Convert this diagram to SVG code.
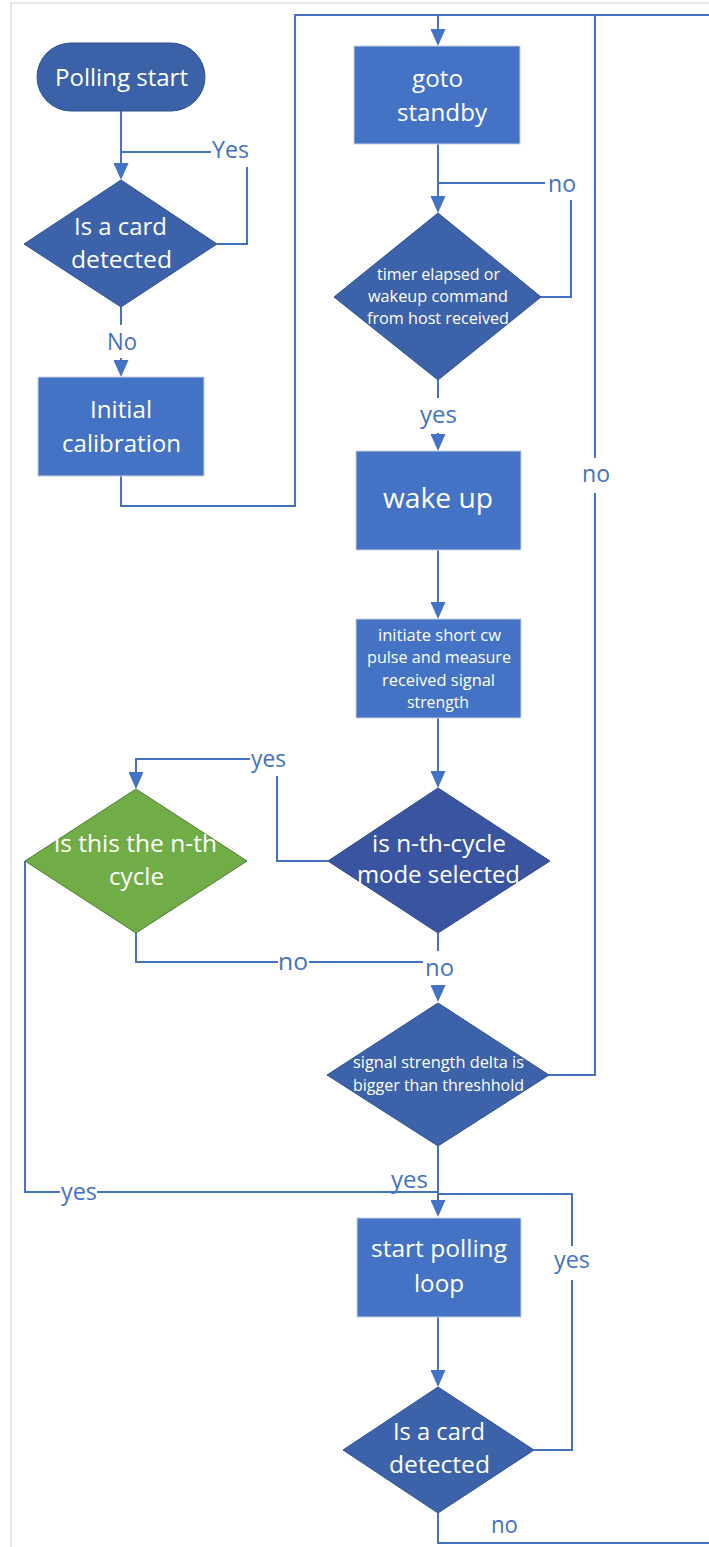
<svg xmlns="http://www.w3.org/2000/svg" width="709" height="1547" viewBox="0 0 709 1547">
<style>
  .bg{fill:#ffffff}
  .page{fill:none;stroke:#dedede;stroke-width:1.5}
  .con{fill:none;stroke:#4472c4;stroke-width:2}
  .arr{fill:none;stroke:#4472c4;stroke-width:2;marker-end:url(#ah)}
  .proc{fill:#4472c4;stroke:#c9d1e0;stroke-width:1}
  .term{fill:#3b61a9;stroke:#2f528f;stroke-width:1}
  .dec{fill:#3c62a9;stroke:#2f528f;stroke-width:1}
  .dec2{fill:#3a55a0;stroke:#2f4a8a;stroke-width:1}
  .green{fill:#70ad47;stroke:#4e7d31;stroke-width:1}
  .t{font-family:"Open Sans","Liberation Sans",sans-serif;fill:#ffffff;text-anchor:middle;font-size:24px}
  .ts{font-family:"Open Sans","Liberation Sans",sans-serif;fill:#ffffff;text-anchor:middle;font-size:16px}
  .tb{font-family:"Open Sans","Liberation Sans",sans-serif;fill:#ffffff;text-anchor:middle;font-size:28px}
  .lbl{font-family:"Open Sans","Liberation Sans",sans-serif;fill:#4472c4;text-anchor:middle;font-size:23px}
</style>
<defs>
  <marker id="ah" viewBox="0 0 17 15" markerWidth="17" markerHeight="15" refX="15" refY="7.5" orient="auto" markerUnits="userSpaceOnUse">
    <path d="M0,0 L17,7.5 L0,15 Z" fill="#4472c4"/>
  </marker>
</defs>
<rect class="bg" x="0" y="0" width="709" height="1547"/>
<path class="page" d="M11,1547 V3 H709"/>

<g id="connectors">
  <path class="arr" d="M121,111 V178"/>
  <path class="con" d="M217,244 H247 V167"/>
  <path class="con" d="M211,152 H121"/>
  <path class="con" d="M121,307 V325"/>
  <path class="arr" d="M121,358 V375"/>
  <path class="arr" d="M121,476 V506 H295 V15 H438 V44"/>
  <path class="con" d="M438,15 H709"/>
  <path class="arr" d="M438,144 V211"/>
  <path class="con" d="M541,297 H571 V200"/>
  <path class="con" d="M545,183 H438"/>
  <path class="con" d="M438,380 V398"/>
  <path class="arr" d="M438,433 V449"/>
  <path class="arr" d="M438,550 V617"/>
  <path class="arr" d="M438,718 V786"/>
  <path class="con" d="M328,861 H277 V776"/>
  <path class="arr" d="M250,759 H136 V787"/>
  <path class="con" d="M438,933 V951"/>
  <path class="arr" d="M438,986 V1000"/>
  <path class="con" d="M136,933 V962 H278"/>
  <path class="con" d="M309,962 H423"/>
  <path class="con" d="M549,1075 H595 V493"/>
  <path class="con" d="M595,458 V15"/>
  <path class="arr" d="M438,1146 V1215"/>
  <path class="con" d="M25,861 V1192 H60"/>
  <path class="con" d="M97,1192 H438"/>
  <path class="con" d="M534,1450 H572 V1280"/>
  <path class="con" d="M572,1246 V1194 H438"/>
  <path class="arr" d="M438,1317 V1385"/>
  <path class="con" d="M438,1513 V1543 H709"/>
  <g id="labels">
    <text class="lbl" x="230.5" y="158" textLength="37" lengthAdjust="spacingAndGlyphs">Yes</text>
    <text class="lbl" x="122" y="350" textLength="30" lengthAdjust="spacingAndGlyphs">No</text>
    <text class="lbl" x="562" y="192" textLength="28" lengthAdjust="spacingAndGlyphs">no</text>
    <text class="lbl" x="438.5" y="423" textLength="37" lengthAdjust="spacingAndGlyphs">yes</text>
    <text class="lbl" x="596" y="482" textLength="28" lengthAdjust="spacingAndGlyphs">no</text>
    <text class="lbl" x="268.5" y="767" textLength="35" lengthAdjust="spacingAndGlyphs">yes</text>
    <text class="lbl" x="293" y="970" textLength="30" lengthAdjust="spacingAndGlyphs">no</text>
    <text class="lbl" x="439.5" y="976" textLength="29" lengthAdjust="spacingAndGlyphs">no</text>
    <text class="lbl" x="409.5" y="1188" textLength="37" lengthAdjust="spacingAndGlyphs">yes</text>
    <text class="lbl" x="79" y="1200" textLength="36" lengthAdjust="spacingAndGlyphs">yes</text>
    <text class="lbl" x="572" y="1268" textLength="36" lengthAdjust="spacingAndGlyphs">yes</text>
    <text class="lbl" x="504.5" y="1533" textLength="27" lengthAdjust="spacingAndGlyphs">no</text>
  </g>
</g>

<g id="polling-start">
  <rect class="term" x="37" y="43" width="168" height="68" rx="34"/>
  <text class="t" x="121.5" y="86" textLength="133" lengthAdjust="spacingAndGlyphs">Polling start</text>
</g>
<g id="card-detected-1">
  <polygon class="dec" points="121,180 217,244 121,307 24,244"/>
  <text class="t" x="120.5" y="235" textLength="93" lengthAdjust="spacingAndGlyphs">Is a card</text>
  <text class="t" x="121.5" y="268" textLength="101" lengthAdjust="spacingAndGlyphs">detected</text>
</g>
<g id="initial-calibration">
  <rect class="proc" x="38" y="377" width="166" height="99"/>
  <text class="t" x="121" y="418" textLength="62" lengthAdjust="spacingAndGlyphs">Initial</text>
  <text class="t" x="121.5" y="452" textLength="119" lengthAdjust="spacingAndGlyphs">calibration</text>
</g>
<g id="goto-standby">
  <rect class="proc" x="354" y="46" width="166" height="98"/>
  <text class="t" x="437.5" y="87" textLength="51" lengthAdjust="spacingAndGlyphs">goto</text>
  <text class="t" x="442" y="121" textLength="90" lengthAdjust="spacingAndGlyphs">standby</text>
</g>
<g id="timer-elapsed">
  <polygon class="dec" points="438,213 541,297 438,380 334,297"/>
  <text class="ts" x="438.5" y="280" textLength="123" lengthAdjust="spacingAndGlyphs">timer elapsed or</text>
  <text class="ts" x="438" y="302" textLength="140" lengthAdjust="spacingAndGlyphs">wakeup command</text>
  <text class="ts" x="438" y="324" textLength="142" lengthAdjust="spacingAndGlyphs">from host received</text>
</g>
<g id="wake-up">
  <rect class="proc" x="356" y="451" width="165" height="99"/>
  <text class="tb" x="438" y="508" textLength="110" lengthAdjust="spacingAndGlyphs">wake up</text>
</g>
<g id="initiate-pulse">
  <rect class="proc" x="356" y="619" width="165" height="99"/>
  <text class="ts" x="439.5" y="641" textLength="123" lengthAdjust="spacingAndGlyphs">initiate short cw</text>
  <text class="ts" x="439" y="663" textLength="144" lengthAdjust="spacingAndGlyphs">pulse and measure</text>
  <text class="ts" x="438.5" y="686" textLength="113" lengthAdjust="spacingAndGlyphs">received signal</text>
  <text class="ts" x="438" y="708" textLength="62" lengthAdjust="spacingAndGlyphs">strength</text>
</g>
<g id="nth-cycle">
  <polygon class="green" points="136,789 247,861 136,933 25,861"/>
  <text class="t" x="135.5" y="852" textLength="163" lengthAdjust="spacingAndGlyphs">is this the n-th</text>
  <text class="t" x="136.5" y="885" textLength="55" lengthAdjust="spacingAndGlyphs">cycle</text>
</g>
<g id="nth-mode">
  <polygon class="dec2" points="438,788 550,861 438,933 328,861"/>
  <text class="t" x="439" y="852" textLength="134" lengthAdjust="spacingAndGlyphs">is n-th-cycle</text>
  <text class="t" x="438.5" y="883" textLength="163" lengthAdjust="spacingAndGlyphs">mode selected</text>
</g>
<g id="signal-delta">
  <polygon class="dec" points="438,1003 549,1075 438,1146 327,1075"/>
  <text class="ts" x="438.5" y="1068" textLength="171" lengthAdjust="spacingAndGlyphs">signal strength delta is</text>
  <text class="ts" x="438.5" y="1091" textLength="171" lengthAdjust="spacingAndGlyphs">bigger than threshhold</text>
</g>
<g id="start-polling-loop">
  <rect class="proc" x="357" y="1218" width="164" height="99"/>
  <text class="t" x="439" y="1257" textLength="136" lengthAdjust="spacingAndGlyphs">start polling</text>
  <text class="t" x="439" y="1292" textLength="50" lengthAdjust="spacingAndGlyphs">loop</text>
</g>
<g id="card-detected-2">
  <polygon class="dec" points="438,1387 534,1450 438,1513 343,1450"/>
  <text class="t" x="439" y="1440" textLength="92" lengthAdjust="spacingAndGlyphs">Is a card</text>
  <text class="t" x="439.5" y="1473" textLength="101" lengthAdjust="spacingAndGlyphs">detected</text>
</g>
</svg>
